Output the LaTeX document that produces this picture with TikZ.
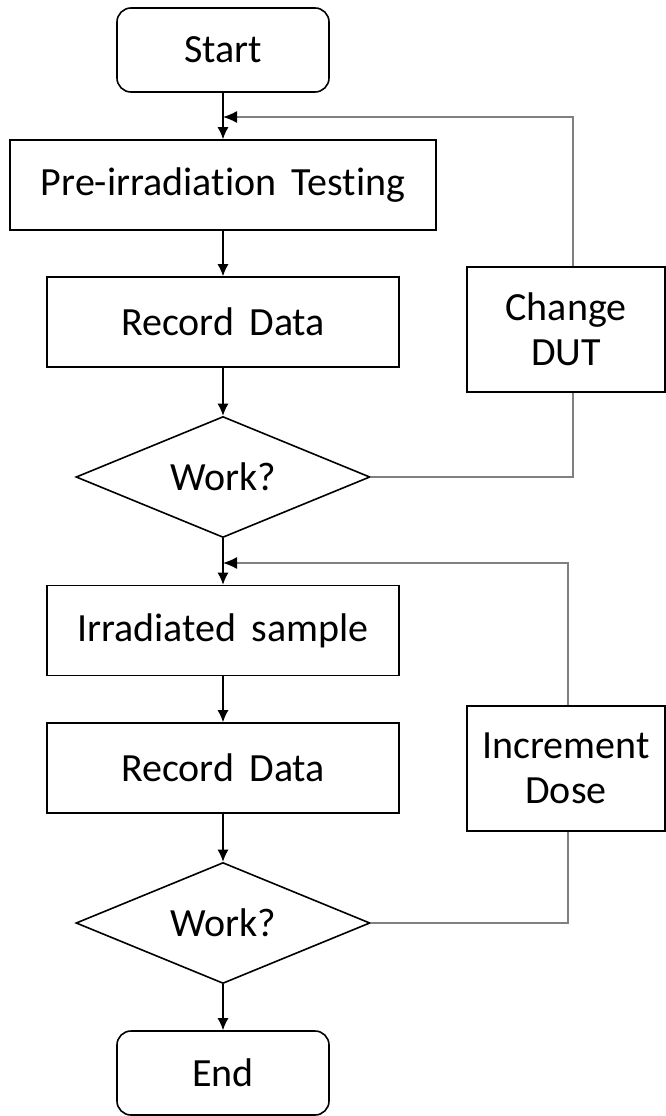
\documentclass[tikz,border=0pt]{standalone}
\usepackage{fontspec}
\setmainfont{Carlito}[Ligatures={NoCommon}, WordSpace={1.7}]
\usetikzlibrary{shapes.geometric, arrows.meta}

\definecolor{loopgray}{RGB}{128,128,128}

\tikzset{
    txt/.style={font=\fontsize{40}{45}\selectfont, align=center, inner sep=0pt},
    termbox/.style={txt, draw, line width=1.6pt, rounded corners=14pt, minimum width=212pt, minimum height=84pt},
    procbox/.style={txt, draw, line width=1.6pt, minimum width=#1, minimum height=90pt},
    sidebox/.style={txt, draw, line width=1.6pt, minimum width=#1, minimum height=125pt},
    decbox/.style={txt, draw, line width=1.6pt, diamond, aspect=2.43, minimum width=294pt, minimum height=121pt},
    flow/.style={line width=1.3pt, -{Latex[length=12pt, width=11pt]}},
    back/.style={line width=1.3pt, draw=loopgray},
}

\begin{document}
\begin{tikzpicture}[x=1pt, y=1pt]
    \useasboundingbox (0, 0) rectangle (666, -1116);
    \clip (0, 0) rectangle (666, -1116);

    % main column
    \node[termbox] (start) at (223, -50) {Start};
    \node[procbox=426pt] (pre) at (223, -185) {Pre-irradiation Testing};
    \node[procbox=352pt] (rec1) at (223, -322) {Record Data};
    \node[decbox] (work1) at (223, -477) {Work?};
    \node[procbox=352pt] (irr) at (223, -630.5) {Irradiated sample};
    \node[procbox=352pt] (rec2) at (223, -768) {Record Data};
    \node[decbox] (work2) at (223, -923) {Work?};
    \node[termbox] (end) at (223, -1073) {End};

    % side boxes
    \node[sidebox=198pt, draw=black] (dut) at (566, -329.5) {Change\\DUT};
    \node[sidebox=198pt] (inc) at (566, -768.5) {Increment\\Dose};

    \coordinate (join1) at (223, -117);
    \coordinate (join2) at (223, -563);

    \draw[flow] (start) -- (pre);
    \draw[flow] (pre) -- (rec1);
    \draw[flow] (rec1) -- (work1);
    \draw[flow] (work1) -- (irr);
    \draw[flow] (irr) -- (rec2);
    \draw[flow] (rec2) -- (work2);
    \draw[flow] (work2) -- (end);

    % feedback loops
    \draw[back] (work1.east) -| ([xshift=7pt]dut.south);
    \draw[back, -{Latex[length=14pt, width=12pt, black]}] ([xshift=7pt]dut.north) |- (join1);
    \draw[back] (work2.east) -| ([xshift=2pt]inc.south);
    \draw[back, -{Latex[length=14pt, width=12pt, black]}] ([xshift=2pt]inc.north) |- (join2);
\end{tikzpicture}
\end{document}
